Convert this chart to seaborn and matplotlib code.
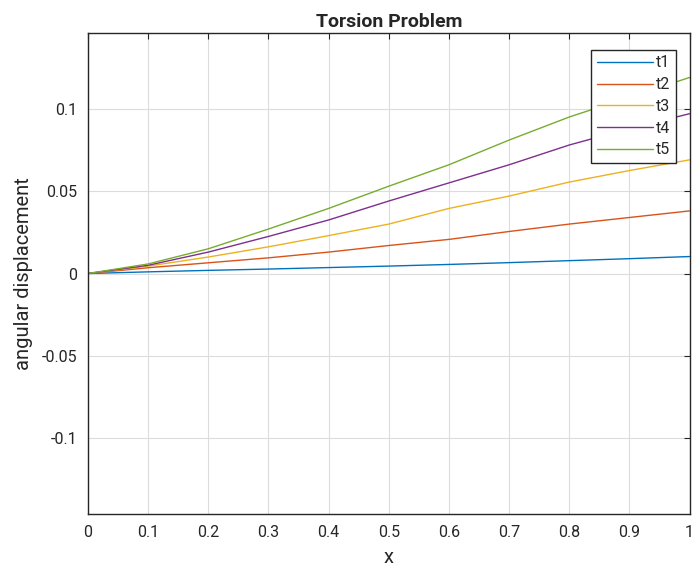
import numpy as np
import pandas as pd
import matplotlib
matplotlib.use("Agg")
import matplotlib.pyplot as plt
import seaborn as sns

x = [0.0, 0.1, 0.2, 0.3, 0.4, 0.5, 0.6, 0.7, 0.8, 0.9, 1.0]
t1 = [0, 0.0010, 0.0019, 0.0027, 0.0036, 0.0045, 0.0055, 0.0066, 0.0078, 0.0090, 0.0103]
t2 = [0, 0.0035, 0.0065, 0.0095, 0.0130, 0.0170, 0.0207, 0.0255, 0.0300, 0.0340, 0.0380]
t3 = [0, 0.0045, 0.0100, 0.0162, 0.0230, 0.0300, 0.0395, 0.0470, 0.0555, 0.0625, 0.0690]
t4 = [0, 0.0050, 0.0130, 0.0225, 0.0325, 0.0440, 0.0550, 0.0660, 0.0780, 0.0880, 0.0970]
t5 = [0, 0.0058, 0.0150, 0.0270, 0.0395, 0.0530, 0.0660, 0.0810, 0.0950, 0.1070, 0.1190]
series_names = ["t1", "t2", "t3", "t4", "t5"]
colors = ["#0072BD", "#D95319", "#EDB120", "#7E2F8E", "#77AC30"]
xticks = [0, 0.1, 0.2, 0.3, 0.4, 0.5, 0.6, 0.7, 0.8, 0.9, 1]
xticklabels = ["0", "0.1", "0.2", "0.3", "0.4", "0.5", "0.6", "0.7", "0.8", "0.9", "1"]
yticks = [-0.1, -0.05, 0, 0.05, 0.1]
yticklabels = ["-0.1", "-0.05", "0", "0.05", "0.1"]

rows = []
for name, vals in zip(series_names, [t1, t2, t3, t4, t5]):
    for xi, yi in zip(x, vals):
        rows.append({"x": xi, "y": yi, "series": name})
df = pd.DataFrame(rows)

sns.set_style("white")
plt.rcParams["font.family"] = ["Roboto", "DejaVu Sans"]

fig = plt.figure(figsize=(6.93, 5.72), dpi=100)
ax = fig.add_axes([0.127, 0.1014, 0.868, 0.8409])
sns.lineplot(data=df, x="x", y="y", hue="series", palette=colors,
             linewidth=1.0, ax=ax, legend=True)

ax.set_xlim(0, 1)
ax.set_ylim(-0.146, 0.146)
ax.set_xticks(xticks)
ax.set_xticklabels(xticklabels)
ax.set_yticks(yticks)
ax.set_yticklabels(yticklabels)
ax.grid(True, color="#dcdcdc", linewidth=0.8)
ax.set_axisbelow(True)
ax.tick_params(direction="in", length=4, width=0.8, color="#262626",
               labelsize=11.5, labelcolor="#262626",
               top=True, right=True, pad=8)
for s in ax.spines.values():
    s.set_color("#262626")
    s.set_linewidth(1.0)
ax.set_xlabel("x", fontsize=14.5, color="#262626", labelpad=6)
ax.set_ylabel("angular displacement", fontsize=14.5, color="#262626", labelpad=6)
ax.set_title("Torsion Problem", fontsize=14, fontweight="bold", pad=4)

leg = ax.legend(loc="upper right", bbox_to_anchor=(0.977, 0.965),
                borderaxespad=0.0,
                frameon=True, fancybox=False, fontsize=11.5,
                handlelength=3.5, handletextpad=0.2, borderpad=0.35,
                labelspacing=0.42)
leg.get_frame().set_edgecolor("#262626")
leg.get_frame().set_linewidth(1.0)
leg.get_frame().set_alpha(1.0)

fig.savefig("out.png", dpi=100)
